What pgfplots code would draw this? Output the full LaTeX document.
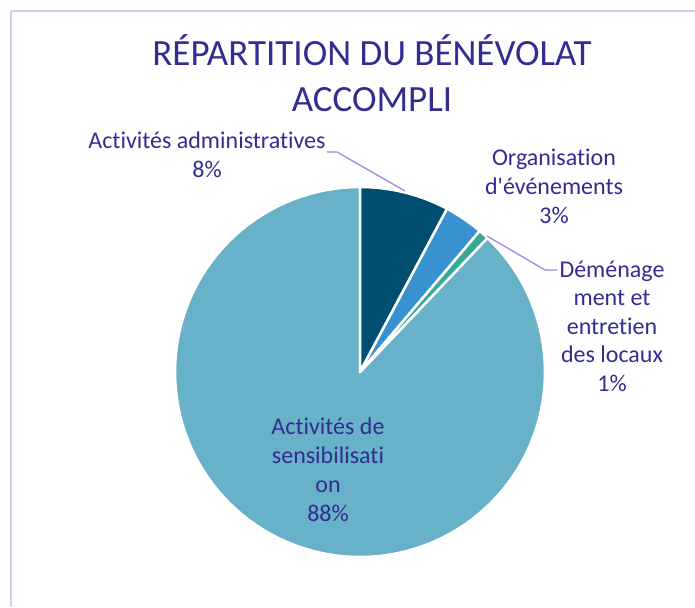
\documentclass[border=0pt]{standalone}
\usepackage{fontspec}
\setmainfont{Carlito}[Ligatures={NoCommon,NoDiscretionary,NoContextual}]
\usepackage{pgfplots}
\usepackage{pgfplotstable}
\pgfplotsset{compat=1.18}
\definecolor{cAdm}{HTML}{004E70}
\definecolor{cOrg}{HTML}{3892CF}
\definecolor{cDem}{HTML}{36A99A}
\definecolor{cSen}{HTML}{67B1C9}
\definecolor{cTxt}{HTML}{332D92}
\definecolor{cLead}{HTML}{9A8AE2}
\definecolor{cFrame}{HTML}{D2CEF2}
\pgfplotstableread{
label value
adm 7.8
org 3.4
dem 0.9
sens 87.9
}\piedata
\pgfplotstablegetelem{0}{value}\of\piedata \let\va\pgfplotsretval
\pgfplotstablegetelem{1}{value}\of\piedata \let\vb\pgfplotsretval
\pgfplotstablegetelem{2}{value}\of\piedata \let\vc\pgfplotsretval
\pgfmathsetmacro\aA{0}
\pgfmathsetmacro\aB{\aA+3.6*\va}
\pgfmathsetmacro\aC{\aB+3.6*\vb}
\pgfmathsetmacro\aD{\aC+3.6*\vc}
\def\cx{360}
\def\cy{372}
\def\rr{185}
\begin{document}
\begin{tikzpicture}
\begin{axis}[
  width=695pt, height=607pt, scale only axis,
  xmin=0, xmax=695, ymin=0, ymax=607, y dir=reverse,
  hide axis, clip=false,
]
\draw[cFrame, line width=2pt] (axis cs:11,607) -- (axis cs:11,11) -- (axis cs:695,11);
\addplot[fill=cSen, draw=white, line width=2.5pt, line join=round, domain=\aD:360, samples=120, variable=\t]
  ({\cx+\rr*sin(\t)}, {\cy-\rr*cos(\t)}) -- (axis cs:\cx,\cy) -- cycle;
\addplot[fill=cAdm, draw=white, line width=2.5pt, line join=round, domain=\aA:\aB, samples=30, variable=\t]
  ({\cx+\rr*sin(\t)}, {\cy-\rr*cos(\t)}) -- (axis cs:\cx,\cy) -- cycle;
\addplot[fill=cOrg, draw=white, line width=2.5pt, line join=round, domain=\aB:\aC, samples=20, variable=\t]
  ({\cx+\rr*sin(\t)}, {\cy-\rr*cos(\t)}) -- (axis cs:\cx,\cy) -- cycle;
\addplot[fill=cDem, draw=white, line width=2.5pt, line join=round, domain=\aC:\aD, samples=10, variable=\t]
  ({\cx+\rr*sin(\t)}, {\cy-\rr*cos(\t)}) -- (axis cs:\cx,\cy) -- cycle;
\draw[cLead, line width=1.3pt] (axis cs:327,152) -- (axis cs:337,152) -- (axis cs:405,191);
\draw[cLead, line width=1.3pt] (axis cs:487,236) -- (axis cs:545,270) -- (axis cs:557,270);
\node[text=cTxt, align=center, font=\fontsize{37}{46}\selectfont] at (axis cs:372,73) {RÉPARTITION DU BÉNÉVOLAT\\ACCOMPLI};
\node[text=cTxt, align=center, font=\fontsize{24}{29}\selectfont] at (axis cs:207,155) {Activités administratives\\8\%};
\node[text=cTxt, align=center, font=\fontsize{24}{29}\selectfont] at (axis cs:554,186) {Organisation\\d\textquotesingle événements\\3\%};
\node[text=cTxt, align=center, font=\fontsize{24}{28.5}\selectfont] at (axis cs:612,326) {Déménage\\ment et\\entretien\\des locaux\\1\%};
\node[text=cTxt, align=center, font=\fontsize{24}{29}\selectfont] at (axis cs:328,470) {Activités de\\sensibilisati\\on\\88\%};
\end{axis}
\pgfresetboundingbox
\path[use as bounding box] (current axis.south west) rectangle (current axis.north east);
\end{tikzpicture}
\end{document}
